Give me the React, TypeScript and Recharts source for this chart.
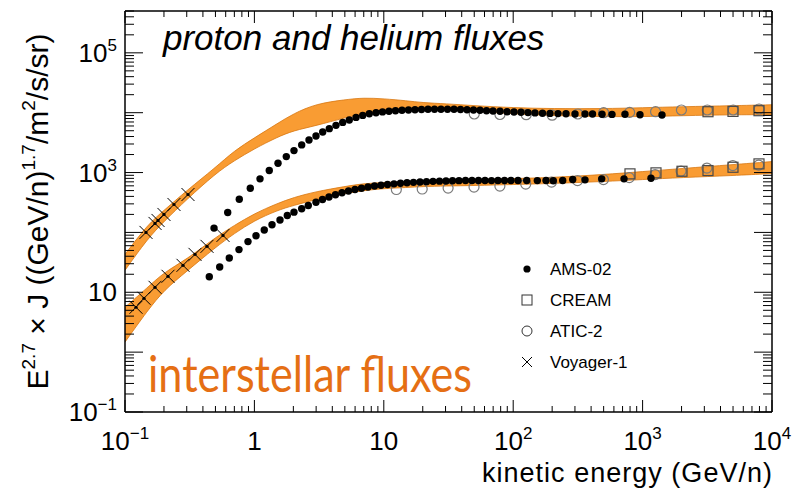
import React from "react";
import { ComposedChart, Area, Scatter, XAxis, YAxis, Legend } from "recharts";

const FONT = '"Liberation Sans", Arial, Helvetica, sans-serif';

// Interstellar flux bands, E^2.7-weighted, lower and upper edges
const bandEnergy = [0.1, 0.15, 0.2, 0.3, 0.5, 0.7, 1, 1.5, 2, 3, 5, 7, 10, 15, 20, 30, 50, 100, 200, 500, 1000, 2000, 5000, 10000];
const protonBandLow = [23.3, 79.4, 152, 355, 962, 1585, 2500, 3900, 5012, 6072, 8260, 9624, 10800, 12110, 12590, 11500, 10500, 9624, 8913, 8577, 8577, 8913, 9261, 9261];
const protonBandHigh = [43.0, 136, 233, 501, 1211, 2327, 3800, 6561, 9624, 14125, 16480, 17780, 17100, 15850, 14680, 14125, 13090, 12110, 11660, 11660, 12110, 12590, 13090, 13590];
const heliumBandLow = [1.47, 5.01, 10.8, 22.4, 56.2, 96.2, 158, 233, 282, 355, 447, 501, 541, 562, 585, 596, 607, 631, 656, 708, 764, 825, 891, 962];
const heliumBandHigh = [5.62, 12.1, 21.5, 35.5, 82.5, 131, 207, 304, 383, 482, 585, 656, 681, 708, 736, 750, 764, 794, 825, 926, 1039, 1166, 1359, 1524];

// AMS-02 protons
const amsProtonE = [0.4875, 0.622, 0.7643, 0.9296, 1.105, 1.303, 1.522, 1.764, 2.023, 2.32, 2.642, 2.992, 3.372, 3.792, 4.271, 4.813, 5.412, 6.098, 6.871, 7.727, 8.706, 9.772, 10.97, 12.31, 13.82, 15.52, 17.42, 19.56, 21.96, 24.65, 27.67, 31.07, 34.88, 39.15, 43.95, 49.34, 55.39, 62.19, 69.81, 79.07, 89.56, 101.4, 114.9, 130.2, 147.4, 168.4, 192.5, 221.9, 255.9, 300.4, 358.8, 410.1, 485.7, 580.0, 731.1, 954.8, 1412];
const amsProtonF = [118.0, 215.4, 359, 547, 785, 1080, 1429, 1848, 2328, 2897, 3508, 4090, 4768, 5412, 6143, 6891, 7555, 8350, 9016, 9616, 10000, 10310, 10590, 10800, 10960, 11090, 11220, 11310, 11390, 11440, 11440, 11440, 11390, 11310, 11220, 11090, 10960, 10800, 10670, 10550, 10390, 10270, 10150, 10040, 9924, 9811, 9735, 9661, 9587, 9513, 9513, 9513, 9441, 9369, 9441, 9261, 9155];

// AMS-02 helium
const amsHeliumE = [0.4482, 0.5393, 0.6397, 0.7603, 0.8922, 1.029, 1.192, 1.368, 1.577, 1.796, 2.023, 2.32, 2.609, 2.992, 3.36, 3.772, 4.234, 4.753, 5.336, 5.99, 6.725, 7.549, 8.476, 9.515, 10.68, 11.99, 13.46, 15.11, 16.96, 19.05, 21.38, 24.0, 26.94, 30.25, 33.96, 38.11, 42.8, 48.04, 53.93, 60.54, 67.96, 76.29, 85.66, 96.16, 108.9, 127.2, 153.6, 179.3, 204.1, 241.3, 288.3, 358.8, 483.1, 718.4, 1161];
const amsHeliumF = [18.13, 26.41, 37.29, 51.68, 70.24, 88.1, 109.6, 134.4, 160.9, 191.2, 217.9, 248.3, 281.8, 319.9, 354.8, 390.6, 425, 458.9, 491.6, 520.8, 547.4, 573.2, 595.7, 614.3, 631, 648.2, 663.2, 676.1, 686.6, 697.2, 705.3, 713.5, 719, 724.4, 730, 732.8, 735.6, 737, 735, 736, 734, 736, 735, 737, 735, 736, 734, 736, 730, 735.6, 764.1, 755.4, 785.2, 785.2, 803.5];

// ATIC-2
const aticProtonE = [50, 79, 126, 200, 316, 500, 794, 1259, 1995, 3162, 5012, 7943];
const aticProtonF = [9513, 9333, 9261, 9085, 9513, 10000, 10120, 10390, 11090, 11090, 11090, 11530];
const aticHeliumE = [12.5, 19.8, 31.4, 49.8, 78.9, 125, 198, 314, 498, 789, 1250, 1982, 3141, 4979, 7891];
const aticHeliumF = [520.8, 530.9, 551.6, 573.2, 595.7, 643.2, 694.5, 735.6, 764.1, 825.4, 926.8, 1059, 1189, 1308, 1334];

// CREAM
const creamProtonE = [3202, 4995, 7934];
const creamProtonF = [10390, 10510, 10800];
const creamHeliumE = [799, 1269, 2016, 3202, 4995, 7934];
const creamHeliumF = [951.3, 988.5, 1051, 1080, 1226, 1396];

// Voyager-1
const voyagerProtonE = [0.1453, 0.1706, 0.1799, 0.2001, 0.2391, 0.3068];
const voyagerProtonF = [100, 141.3, 158.5, 199.5, 292.9, 429.9];
const voyagerHeliumE = [0.1216, 0.1402, 0.1706, 0.2149, 0.2807, 0.3475, 0.4302, 0.572];
const voyagerHeliumF = [5.62, 7.94, 12.1, 18.5, 28.2, 43.0, 58.5, 89.1];

// Axis ticks
const xMajor = [0.1, 1, 10, 100, 1000, 10000];
const yMajor = [0.1, 1, 10, 100, 1000, 10000, 100000];
const minorSteps = [2, 3, 4, 5, 6, 7, 8, 9];
const yTopMinor = [2, 3, 4, 5];
const xTickLabels: Record<string, [string, string]> = {
  "0.1": ["10", "\u22121"],
  "1": ["1", ""],
  "10": ["10", ""],
  "100": ["10", "2"],
  "1000": ["10", "3"],
  "10000": ["10", "4"],
};
const yTickLabels: Record<string, [string, string]> = {
  "0.1": ["10", "\u22121"],
  "10": ["10", ""],
  "1000": ["10", "3"],
  "100000": ["10", "5"],
};

const legendItems = ["AMS-02", "CREAM", "ATIC-2", "Voyager-1"];

const xTicks: number[] = [];
xMajor.forEach((d, i) => {
  xTicks.push(d);
  if (i < xMajor.length - 1) minorSteps.forEach((m) => xTicks.push(m * d));
});
const yTicks: number[] = [];
yMajor.forEach((d, i) => {
  yTicks.push(d);
  const steps = i < yMajor.length - 1 ? minorSteps : yTopMinor;
  steps.forEach((m) => yTicks.push(m * d));
});

const bandRows = bandEnergy.map((e, i) => ({
  e,
  p: [protonBandLow[i], protonBandHigh[i]],
  h: [heliumBandLow[i], heliumBandHigh[i]],
}));
const pts = (es: number[], fs: number[]) => es.map((e, i) => ({ e, f: fs[i] }));

const isMajor = (list: number[], v: number) => list.includes(v);

// Marker shapes
const DotMark = ({ cx, cy }: any) => <circle cx={cx} cy={cy} r={3.7} fill="#000" />;
const SquareMark = ({ cx, cy }: any) => (
  <rect x={cx - 5} y={cy - 5} width={10} height={10} fill="none" stroke="#4a4a4a" strokeWidth={1.2} />
);
const CircleMark = ({ cx, cy }: any) => (
  <circle cx={cx} cy={cy} r={5} fill="none" stroke="#7a7a7a" strokeWidth={1.2} />
);
const CrossMark = ({ cx, cy }: any) => (
  <g stroke="#000" strokeWidth={1}>
    <line x1={cx - 6.5} y1={cy - 6.5} x2={cx + 6.5} y2={cy + 6.5} />
    <line x1={cx - 6.5} y1={cy + 6.5} x2={cx + 6.5} y2={cy - 6.5} />
    <circle cx={cx} cy={cy} r={1.6} fill="#000" stroke="none" />
  </g>
);
const legendMarks = [
  (cx: number, cy: number) => <circle cx={cx} cy={cy} r={3.6} fill="#000" />,
  (cx: number, cy: number) => (
    <rect x={cx - 5} y={cy - 5} width={10} height={10} fill="none" stroke="#333" strokeWidth={1} />
  ),
  (cx: number, cy: number) => <circle cx={cx} cy={cy} r={5} fill="none" stroke="#333" strokeWidth={1} />,
  (cx: number, cy: number) => (
    <g stroke="#000" strokeWidth={1}>
      <line x1={cx - 5} y1={cy - 5} x2={cx + 5} y2={cy + 5} />
      <line x1={cx - 5} y1={cy + 5} x2={cx + 5} y2={cy - 5} />
    </g>
  ),
];

// Ticks drawn inward from each frame side
const BottomTick = ({ x, y, payload }: any) => {
  const v = payload.value;
  const major = isMajor(xMajor, v);
  const lab = major ? xTickLabels[String(v)] : undefined;
  return (
    <g>
      <line x1={x} x2={x} y1={y} y2={y - (major ? 12 : 6)} stroke="#000" strokeWidth={1} />
      {lab && (
        <text x={x} y={y + 38} textAnchor="middle" fontFamily={FONT} fontSize={26} fill="#000">
          {lab[0]}
          {lab[1] ? (
            <tspan dy={-11} fontSize={17}>
              {lab[1]}
            </tspan>
          ) : null}
        </text>
      )}
    </g>
  );
};
const TopTick = ({ x, y, payload }: any) => {
  const major = isMajor(xMajor, payload.value);
  return <line x1={x} x2={x} y1={y} y2={y + (major ? 12 : 6)} stroke="#000" strokeWidth={1} />;
};
const LeftTick = ({ x, y, payload }: any) => {
  const v = payload.value;
  const major = isMajor(yMajor, v);
  const lab = major ? yTickLabels[String(v)] : undefined;
  return (
    <g>
      <line x1={x} x2={x + (major ? 18 : 9)} y1={y} y2={y} stroke="#000" strokeWidth={1} />
      {lab && (
        <text x={x - 8} y={y + 9} textAnchor="end" fontFamily={FONT} fontSize={26} fill="#000">
          {lab[0]}
          {lab[1] ? (
            <tspan dy={-11} fontSize={17}>
              {lab[1]}
            </tspan>
          ) : null}
        </text>
      )}
    </g>
  );
};
const RightTick = ({ x, y, payload }: any) => {
  const major = isMajor(yMajor, payload.value);
  return <line x1={x} x2={x - (major ? 18 : 9)} y1={y} y2={y} stroke="#000" strokeWidth={1} />;
};

const XTitle = ({ viewBox }: any) => (
  <text
    x={viewBox.x + viewBox.width}
    y={viewBox.y + 70}
    textAnchor="end"
    fontFamily={FONT}
    fontSize={27}
    fill="#000"
    textLength={290}
    lengthAdjust="spacing"
  >
    kinetic energy (GeV/n)
  </text>
);
const YTitle = ({ viewBox }: any) => {
  const cx = 48;
  const cy = viewBox.y + viewBox.height / 2;
  return (
    <text
      x={cx}
      y={cy}
      transform={`rotate(-90, ${cx}, ${cy})`}
      textAnchor="middle"
      fontFamily={FONT}
      fontSize={30}
      fill="#000"
      style={{ whiteSpace: "pre" }}
    >
      <tspan>E</tspan>
      <tspan dy={-13} fontSize={19}>2.7</tspan>
      <tspan dy={13}>{" \u00d7 J ((GeV/n)"}</tspan>
      <tspan dy={-13} fontSize={19}>1.7</tspan>
      <tspan dy={13}>/m</tspan>
      <tspan dy={-13} fontSize={19}>2</tspan>
      <tspan dy={13}>/s/sr)</tspan>
    </text>
  );
};

const LegendBox = () => (
  <svg width={150} height={125}>
    {legendItems.map((name, i) => {
      const cy = 15 + i * 31;
      return (
        <g key={name}>
          {legendMarks[i](12, cy)}
          <text x={35} y={cy + 6} fontFamily={FONT} fontSize={17} fill="#000">
            {name}
          </text>
        </g>
      );
    })}
  </svg>
);

const bandFill = "#f99c33";
const bandStroke = "#d8760f";

export default function App() {
  return (
    <div style={{ position: "absolute", left: 0, top: 0, width: 802, height: 495, background: "#fff" }}>
      <ComposedChart
        width={802}
        height={495}
        data={bandRows}
        margin={{ top: 6, right: 20, bottom: 43, left: 65 }}
      >
        <XAxis
          dataKey="e"
          type="number"
          scale="log"
          domain={[0.1, 10000]}
          allowDataOverflow
          ticks={xTicks}
          interval={0}
          height={40}
          tickSize={0}
          tickMargin={0}
          tickLine={false}
          tick={BottomTick}
          axisLine={{ stroke: "#000", strokeWidth: 1.5 }}
          label={{ content: XTitle }}
        />
        <XAxis
          xAxisId="top"
          orientation="top"
          dataKey="e"
          type="number"
          scale="log"
          domain={[0.1, 10000]}
          allowDataOverflow
          ticks={xTicks}
          interval={0}
          height={5}
          tickSize={0}
          tickMargin={0}
          tickLine={false}
          tick={TopTick}
          axisLine={{ stroke: "#000", strokeWidth: 1.5 }}
        />
        <YAxis
          type="number"
          scale="log"
          domain={[0.1, 500000]}
          allowDataOverflow
          ticks={yTicks}
          interval={0}
          width={60}
          tickSize={0}
          tickMargin={0}
          tickLine={false}
          tick={LeftTick}
          axisLine={{ stroke: "#000", strokeWidth: 1.5 }}
          label={{ content: YTitle }}
        />
        <YAxis
          yAxisId="right"
          orientation="right"
          type="number"
          scale="log"
          domain={[0.1, 500000]}
          allowDataOverflow
          ticks={yTicks}
          interval={0}
          width={10}
          tickSize={0}
          tickMargin={0}
          tickLine={false}
          tick={RightTick}
          axisLine={{ stroke: "#000", strokeWidth: 1.5 }}
        />
        <Area
          dataKey="p"
          type="basis"
          fill={bandFill}
          fillOpacity={1}
          stroke={bandStroke}
          strokeWidth={0.8}
          isAnimationActive={false}
          legendType="none"
        />
        <Area
          dataKey="h"
          type="basis"
          fill={bandFill}
          fillOpacity={1}
          stroke={bandStroke}
          strokeWidth={0.8}
          isAnimationActive={false}
          legendType="none"
        />
        <Scatter name="ATIC-2 p" data={pts(aticProtonE, aticProtonF)} dataKey="f" shape={CircleMark} isAnimationActive={false} legendType="none" />
        <Scatter name="ATIC-2 He" data={pts(aticHeliumE, aticHeliumF)} dataKey="f" shape={CircleMark} isAnimationActive={false} legendType="none" />
        <Scatter name="CREAM p" data={pts(creamProtonE, creamProtonF)} dataKey="f" shape={SquareMark} isAnimationActive={false} legendType="none" />
        <Scatter name="CREAM He" data={pts(creamHeliumE, creamHeliumF)} dataKey="f" shape={SquareMark} isAnimationActive={false} legendType="none" />
        <Scatter name="AMS-02 p" data={pts(amsProtonE, amsProtonF)} dataKey="f" shape={DotMark} isAnimationActive={false} legendType="none" />
        <Scatter name="AMS-02 He" data={pts(amsHeliumE, amsHeliumF)} dataKey="f" shape={DotMark} isAnimationActive={false} legendType="none" />
        <Scatter name="Voyager-1 p" data={pts(voyagerProtonE, voyagerProtonF)} dataKey="f" shape={CrossMark} isAnimationActive={false} legendType="none" />
        <Scatter name="Voyager-1 He" data={pts(voyagerHeliumE, voyagerHeliumF)} dataKey="f" shape={CrossMark} isAnimationActive={false} legendType="none" />
        <Legend
          layout="vertical"
          align="center"
          verticalAlign="middle"
          wrapperStyle={{ left: 515, top: 254, width: 150, height: 125 }}
          content={LegendBox}
        />
      </ComposedChart>
      <svg
        width={802}
        height={495}
        style={{ position: "absolute", left: 0, top: 0, pointerEvents: "none" }}
      >
        <text x={163} y={50} fontFamily={FONT} fontStyle="italic" fontSize={35} fill="#000">
          proton and helium fluxes
        </text>
        <text
          x={148}
          y={392}
          fontFamily="Lato, 'Open Sans', sans-serif"
          fontSize={50}
          fill="#e56f14"
          textLength={324}
          lengthAdjust="spacingAndGlyphs"
        >
          interstellar fluxes
        </text>
      </svg>
    </div>
  );
}
